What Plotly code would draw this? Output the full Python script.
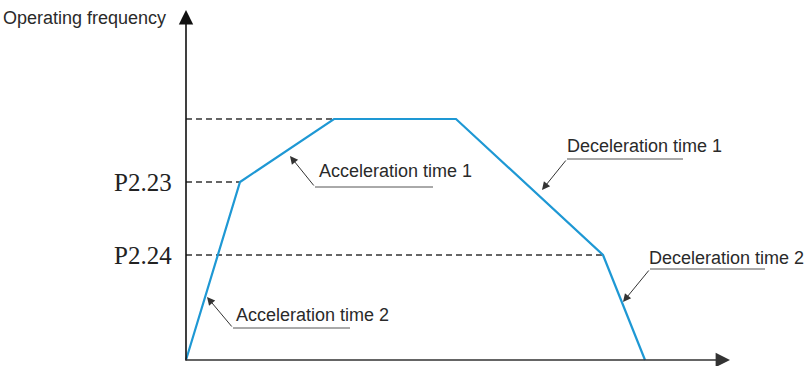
import plotly.graph_objects as go

# speed profile (time units, frequency units)
time = [0, 54, 148, 270, 417, 459]
freq = [0, 178, 241, 241, 105, 0]

# which corner points get a dashed guide back to the frequency axis
guide_points = [1, 2, 4]
level_labels = {1: "P2.23", 4: "P2.24"}

ramp_labels = ["Acceleration time 1", "Acceleration time 2",
               "Deceleration time 1", "Deceleration time 2"]

blue = "rgb(30,152,212)"
txt = "#2a2a2a"
sans = "Liberation Sans, Arial, sans-serif"
serif = "Liberation Serif, Times New Roman, serif"

fig = go.Figure()

# dashed guides
for i in guide_points:
    fig.add_trace(go.Scatter(
        x=[0, time[i]], y=[freq[i], freq[i]],
        mode="lines", line=dict(color="#333333", width=1.3, dash="6px,4px"),
        hoverinfo="skip", showlegend=False))

# the profile itself
fig.add_trace(go.Scatter(
    x=time, y=freq, mode="lines",
    line=dict(color=blue, width=2.2),
    showlegend=False))

annotations = []
shapes = []

# axes with arrow heads
annotations.append(dict(x=0, y=350, ax=0, ay=-2, xref="x", yref="y", axref="x", ayref="y",
                        text="", showarrow=True, arrowhead=2, arrowsize=1.8,
                        arrowwidth=1.6, arrowcolor="#111"))
annotations.append(dict(x=544, y=0, ax=-2, ay=0, xref="x", yref="y", axref="x", ayref="y",
                        text="", showarrow=True, arrowhead=2, arrowsize=1.8,
                        arrowwidth=1.6, arrowcolor="#333"))

annotations.append(dict(x=-18, y=342, xref="x", yref="y", text="Operating frequency",
                        showarrow=False, xanchor="right", yanchor="middle",
                        font=dict(family=sans, size=18, color=txt)))

for i, lab in level_labels.items():
    annotations.append(dict(x=-12, y=freq[i], xref="x", yref="y", text=lab,
                            showarrow=False, xanchor="right", yanchor="middle",
                            font=dict(family=serif, size=25, color="#222")))

# leader lines: (arrow tip, elbow, end of underline, text position)
leaders = [
    ((104, 204), (129, 173), 247, (131, 189)),
    ((21, 63), (47, 32), 164, (48, 45)),
    ((356, 170), (381, 201), 497, (379, 214)),
    ((437, 58), (464, 91), 579, (461, 102)),
]
for lab, (tip, elbow, xend, tpos) in zip(ramp_labels, leaders):
    annotations.append(dict(x=tip[0], y=tip[1], ax=elbow[0], ay=elbow[1],
                            xref="x", yref="y", axref="x", ayref="y",
                            text="", showarrow=True, arrowhead=2, arrowsize=1.6,
                            arrowwidth=1, arrowcolor="#333"))
    shapes.append(dict(type="line", xref="x", yref="y", x0=elbow[0], y0=elbow[1],
                       x1=xend, y1=elbow[1], line=dict(color="#555", width=1)))
    annotations.append(dict(x=tpos[0], y=tpos[1], xref="x", yref="y", text=lab,
                            showarrow=False, xanchor="left", yanchor="middle",
                            font=dict(family=sans, size=18, color=txt)))

fig.update_layout(
    width=807, height=366,
    margin=dict(l=0, r=0, t=0, b=0),
    paper_bgcolor="white", plot_bgcolor="white",
    xaxis=dict(range=[-186, 621], visible=False, fixedrange=True),
    yaxis=dict(range=[-6, 360], visible=False, fixedrange=True),
    annotations=annotations, shapes=shapes,
    showlegend=False,
)

# drop the default body margin so the figure fills the window exactly
fig.write_html("out.html", config={"displayModeBar": False},
               post_script="document.body.style.margin='0';")
